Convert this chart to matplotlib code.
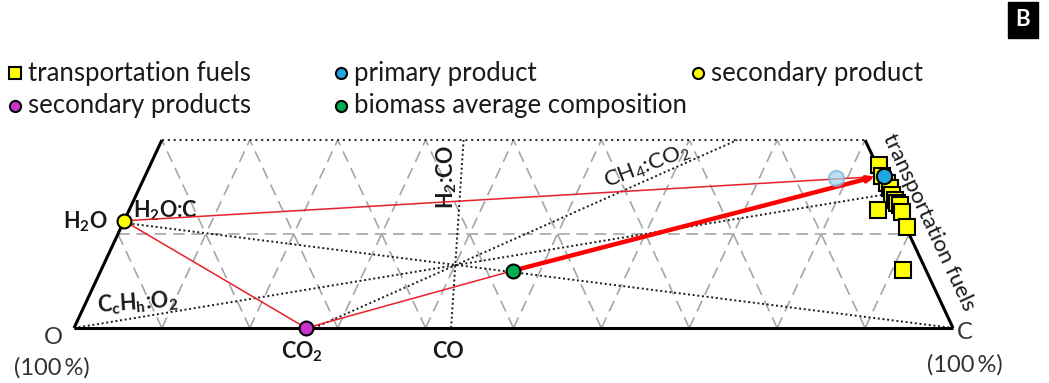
import matplotlib
matplotlib.use("Agg")
import matplotlib.pyplot as plt
from matplotlib.lines import Line2D

plt.rcParams['font.family'] = ['Lato', 'DejaVu Sans']
plt.rcParams['mathtext.fontset'] = 'custom'
plt.rcParams['mathtext.rm'] = 'Lato'
plt.rcParams['mathtext.it'] = 'Lato:italic'
plt.rcParams['mathtext.bf'] = 'Lato:bold'

# compositions as mass fractions (C, H); O = 1 - C - H
species = {
    "O": (0.0, 0.0),
    "C": (1.0, 0.0),
    "H2": (0.0, 1.0),
    "H2O": (0.0, 0.112),
    "CO2": (0.273, 0.0),
    "CO": (0.429, 0.0),
    "CH4": (0.75, 0.25),
    "CH2": (0.857, 0.143),
}
ratio_lines = [("H2O", "C"), ("O", "CH2"), ("CO2", "CH4"), ("CO", "H2")]

fuel_C = [0.829, 0.838, 0.848, 0.854, 0.860, 0.866, 0.870, 0.874, 0.880, 0.852, 0.894, 0.912]
fuel_H = [0.173, 0.162, 0.154, 0.149, 0.142, 0.136, 0.133, 0.131, 0.123, 0.126, 0.107, 0.062]

primary = (0.840, 0.162)
primary_ghost = (0.787, 0.160)
arrow_tip = (0.831, 0.161)
water = (0.0, 0.114)
co2_pt = (0.264, 0.0)
biomass = (0.469, 0.061)

grid_levels = [0.1, 0.2, 0.3, 0.4, 0.5, 0.6, 0.7, 0.8, 0.9]
H_MAX = 0.2


def xy(c, h):
    return c + h / 2.0, h


fig = plt.figure(figsize=(10.49, 3.83), dpi=100)
ax = fig.add_axes([74 / 1049, 55 / 383, 879 / 1049, 188 / 383])
ax.set_xlim(0, 1)
ax.set_ylim(0, H_MAX)
ax.axis("off")

gkw = dict(color="#a6a6a6", lw=1.2, dashes=(7, 4), zorder=1)
# constant C and constant O lines
for v in grid_levels:
    htop = min(H_MAX, 1 - v)
    p0, p1 = xy(v, 0), xy(v, htop)
    ax.plot([p0[0], p1[0]], [p0[1], p1[1]], **gkw)
    p0, p1 = xy(1 - v, 0), xy(1 - v - htop, htop)
    ax.plot([p0[0], p1[0]], [p0[1], p1[1]], **gkw)
p0, p1 = xy(0, 0.1), xy(0.9, 0.1)
ax.plot([p0[0], p1[0]], [p0[1], p1[1]], **gkw)

# outline
for a, b in [((0, 0), (1, 0)), ((0, 0), (0, H_MAX)), ((1, 0), (1 - H_MAX, H_MAX))]:
    p0, p1 = xy(*a), xy(*b)
    ax.plot([p0[0], p1[0]], [p0[1], p1[1]], color="black", lw=2.2, zorder=3,
            solid_capstyle="butt", clip_on=False)
p0, p1 = xy(0, H_MAX), xy(1 - H_MAX, H_MAX)
ax.plot([p0[0], p1[0]], [p0[1], p1[1]], color="#333333", lw=1.5, ls=(0, (1, 1.8)), zorder=2,
        clip_on=False)

# stoichiometric ratio lines
for s0, s1 in ratio_lines:
    c0, h0 = species[s0]
    c1, h1 = species[s1]
    if h1 > H_MAX:
        t = (H_MAX - h0) / (h1 - h0)
        c1, h1 = c0 + t * (c1 - c0), H_MAX
    p0, p1 = xy(c0, h0), xy(c1, h1)
    ax.plot([p0[0], p1[0]], [p0[1], p1[1]], color="#1a1a1a", lw=1.4, ls=(0, (1, 1.4)), zorder=2,
            clip_on=False)

# reaction paths
for a, b in [(water, arrow_tip), (water, co2_pt), (co2_pt, biomass)]:
    p0, p1 = xy(*a), xy(*b)
    ax.plot([p0[0], p1[0]], [p0[1], p1[1]], color="#e8202a", lw=1.1, zorder=4)
ax.annotate("", xy=xy(*arrow_tip), xytext=xy(*biomass),
            arrowprops=dict(arrowstyle="-|>,head_length=0.35,head_width=0.15", color="#ff0000",
                            lw=3.2, shrinkA=0, shrinkB=0), zorder=5)

# markers
fx = [c + h / 2 for c, h in zip(fuel_C, fuel_H)]
ax.plot(fx, fuel_H, ls="none", marker="s", ms=11, mfc="#ffff00", mec="black", mew=1.5,
        zorder=6, clip_on=False)
gx, gy = xy(*primary_ghost)
ax.plot(gx, gy, marker="o", ms=11, mfc="#9fd3ee", mec="#7ab0cc", mew=1.5, alpha=0.7, zorder=5)
px, py = xy(*primary)
ax.plot(px, py, marker="o", ms=11, mfc="#1ea7e1", mec="black", mew=1.5, zorder=7)
for pt, col in [(water, "#ffff00"), (co2_pt, "#cc33cc"), (biomass, "#00b050")]:
    x, y = xy(*pt)
    ax.plot(x, y, marker="o", ms=10, mfc=col, mec="black", mew=1.5, zorder=7, clip_on=False)

# labels
bold = dict(fontsize=15.5, fontweight="bold", color="#1a1a1a")
ax.text(0.0387, 0.1128, r"H$_\mathbf{2}$O", ha="right", va="center", **bold)
ax.text(0.067, 0.1245, r"H$_\mathbf{2}$O:C", ha="left", va="center", **bold)
ax.text(0.0728, 0.0266, r"C$_\mathbf{c}$H$_\mathbf{h}$:O$_\mathbf{2}$", ha="center", va="center",
        rotation=4, **bold)
ax.text(0.4243, 0.1606, r"H$_\mathbf{2}$:CO", ha="center", va="center", rotation=90, **bold)
ax.text(0.652, 0.172, r"CH$_4$:CO$_2$", ha="center", va="center", rotation=21,
        fontsize=16, color="#1a1a1a")
ax.text(0.972, 0.1128, "transportation fuels", ha="center", va="center", rotation=-65,
        fontsize=16, color="#1a1a1a")
ax.text(0.2594, -0.0255, r"CO$_\mathbf{2}$", ha="center", va="center", clip_on=False, **bold)
ax.text(0.4255, -0.0255, "CO", ha="center", va="center", clip_on=False, **bold)
norm = dict(fontsize=17, color="#333333", ha="center", va="center")
ax.text(-0.024, -0.0106, "O", **norm)
ax.text(-0.025, -0.0426, "(100\u2009%)", **norm)
ax.text(1.0137, -0.0053, "C", **norm)
ax.text(1.0137, -0.0394, "(100\u2009%)", **norm)

# legend
legend_items = [
    ("s", "#ffff00", "transportation fuels", 15, 73),
    ("o", "#1ea7e1", "primary product", 341, 73),
    ("o", "#ffff00", "secondary product", 698, 73),
    ("o", "#cc33cc", "secondary products", 15, 106),
    ("o", "#00b050", "biomass average composition", 341, 106),
]
for mk, col, label, lx, ly in legend_items:
    fig.add_artist(Line2D([lx / 1049], [1 - ly / 383], marker=mk, ms=8, mfc=col, mec="black",
                          mew=1.5, ls="none", transform=fig.transFigure))
    fig.text((lx + 13) / 1049, 1 - ly / 383, label, ha="left", va="center", fontsize=18.5,
             color="#1a1a1a")

fig.text(1023 / 1049, 1 - 20 / 383, "B", ha="center", va="center", color="white",
         fontsize=16, fontweight="bold",
         bbox=dict(facecolor="black", edgecolor="black", boxstyle="square,pad=0.35"))

fig.savefig("out.png", dpi=100)
